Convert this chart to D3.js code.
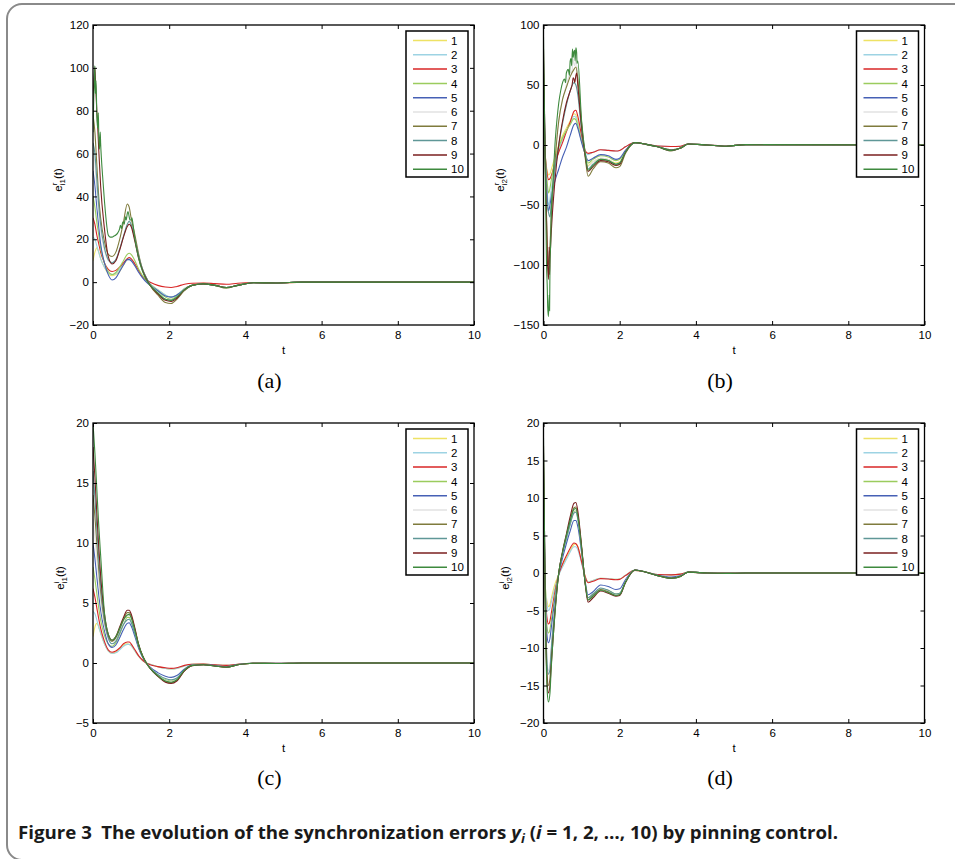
<!DOCTYPE html>
<html lang="en">
<head>
<meta charset="utf-8">
<title>Figure 3 - synchronization errors</title>
<script src="https://cdn.jsdelivr.net/npm/d3@7/dist/d3.min.js"></script>
<style>
  body { margin: 0; background: #fff; }
  svg text { font-family: "Liberation Sans", Arial, Helvetica, sans-serif; }
  .frame { fill: none; stroke: #000; stroke-width: 1.3; }
  .axis line { stroke: #000; stroke-width: 1; }
  .axis path { display: none; }
  .axis text { font-size: 11.5px; fill: #000; }
  .series { fill: none; stroke-width: 1.1; }
</style>
</head>
<body>
<div id="viz"></div>
<script>
// ---- data ----
var seriesNames = ["1", "2", "3", "4", "5", "6", "7", "8", "9", "10"];
var colors = ["#eee264", "#9dd3e3", "#d92626", "#9bcc5e", "#4660b5",
              "#e2e2e2", "#7f7b3c", "#5f9797", "#7a1f1f", "#3e8a3e"];

var xTicks = [0, 2, 4, 6, 8, 10];
var yTicksA = [-20, 0, 20, 40, 60, 80, 100, 120];
var yTicksB = [-150, -100, -50, 0, 50, 100];
var yTicksC = [-5, 0, 5, 10, 15, 20];
var yTicksD = [-20, -15, -10, -5, 0, 5, 10, 15, 20];

// time grids (panels a, c share one, b, d the other)
var tGrid1 = [0, .05, .1, .15, .2, .3, .4, .5, .6, .7, .8, .9, .95, 1.0, 1.1, 1.2, 1.3, 1.4, 1.5,
              1.7, 1.9, 2.05, 2.2, 2.4, 2.6, 2.9, 3.2, 3.5, 3.8, 4.2, 4.8, 5.5, 10];
var tGrid2 = [0, .05, .1, .13, .17, .2, .3, .4, .5, .6, .7, .8, .85, .9, 1.0, 1.1, 1.17, 1.3, 1.5,
              1.7, 1.9, 2.0, 2.15, 2.4, 2.7, 3.0, 3.35, 3.6, 3.8, 4.3, 4.8, 5.3, 10];

// (a) e^r_i1
var eR1 = [
  [10, 14, 16, 14, 11, 7, 4, 3, 3.5, 5, 8, 10.5, 11, 10.5, 8, 5, 2.5, 0.5, -1, -3.5, -6, -7, -6, -3, -1.5, -0.5, -1.5, -2.5, -1.5, -0.3, -0.5, 0, 0],
  [21, 20, 17, 14, 11, 7, 4.5, 3.5, 4, 6, 8.5, 10.5, 11, 10.5, 8, 5, 2.5, 0.5, -1, -3.5, -6, -7, -6, -3, -1.5, -0.7, -1.5, -2.5, -1.5, -0.3, -0.4, 0, 0],
  [30, 27, 22, 18, 14, 9, 6, 5, 5.5, 7, 9, 11, 11.5, 11, 8.5, 5.5, 2.5, 1, 0, -1.5, -2.3, -2.5, -2, -1, -0.5, -0.4, -0.7, -1, -0.5, -0.2, -0.5, 0, 0],
  [40, 35, 28, 22, 16, 9, 5, 3.5, 4.5, 7, 10, 13, 13.5, 13, 10, 6, 3, 1, -1, -4, -7, -8, -6.5, -3.5, -1.5, -0.8, -1.5, -2.5, -1.5, -0.3, -0.4, 0, 0],
  [52, 45, 35, 26, 18, 9, 3.5, 1, 2, 5, 8, 10.5, 10.5, 10, 7.5, 4.5, 2, 0, -1.5, -4, -6.5, -7, -6, -3.5, -1.5, -0.8, -1.5, -2.5, -1.5, -0.3, -0.4, 0, 0],
  [63, 55, 42, 32, 24, 15, 10, 9, 10.5, 15, 21, 26.5, 28, 27, 20, 12, 6, 2, -1, -5, -8, -8.5, -7, -3.5, -1.5, -0.8, -1.5, -2.5, -1.5, -0.3, -0.4, 0, 0],
  [78, 70, 55, 40, 30, 19, 13, 12, 14, 20, 28, 36.5, 35, 30, 22, 13, 6, 2, -1.5, -6, -9.5, -10, -8, -4, -1.5, -0.8, -1.5, -2.8, -1.5, -0.3, -0.4, 0, 0],
  [65, 60, 48, 36, 27, 16, 10.5, 9, 10.5, 15.5, 21.5, 27, 28.5, 27, 20, 12, 6, 2, -1, -5, -8, -8.5, -7, -3.5, -1.5, -0.8, -1.5, -2.5, -1.5, -0.3, -0.4, 0, 0],
  [85, 100, 80, 62, 45, 25, 12, 8.5, 10, 15, 21, 26, 27, 26, 19, 11, 5.5, 1.5, -1.5, -5.5, -8.5, -9, -7.5, -3.5, -1.5, -0.8, -1.5, -2.5, -1.5, -0.3, -0.4, 0, 0],
  [70, 101, 78, 70, 65, 38, 22, 21, 22, 25, 28, 32, 30.5, 29, 20, 11, 5, 1, -1.5, -5, -8, -8.5, -7, -3.5, -1.5, -0.8, -1.5, -2.5, -1.5, -0.3, -0.4, 0, 0]
];
// jagged extra samples (series index -> [t, value])
var jitR1 = {
  8: [[0.03, 96], [0.07, 92], [0.12, 74]],
  9: [[0.02, 86], [0.04, 97], [0.06, 88], [0.08, 94], [0.12, 72], [0.14, 79], [0.17, 62], [0.19, 70],
      [0.22, 58], [0.25, 50], [0.45, 21], [0.55, 21.5], [0.65, 23], [0.72, 26.5], [0.75, 25], [0.78, 28], [0.82, 27],
      [0.85, 30.5], [0.87, 29], [0.92, 33], [0.97, 29], [1.02, 30], [1.05, 27]]
};

// (b) e^r_i2
var eR2 = [
  [0, -12, -22, -25, -24, -21, -10, 0, 8, 14, 20, 26, 25, 20, 5, -9, -17, -14, -11, -12, -15, -14, -6, 2, 0.5, -1.5, -4, -2.5, 0.8, 0, -1, 0.3, 0],
  [10, -15, -40, -50, -45, -38, -20, -5, 5, 12, 18, 24, 23, 18, 4, -6, -8, -6, -4, -4.5, -5, -4.5, -1.5, 2, 0.5, -0.8, -1.2, -1, 0.8, 0, -0.8, 0.3, 0],
  [20, -10, -25, -29, -28, -26, -15, -6, 2, 11, 19, 28, 29, 24, 8, -5, -7, -6, -4, -4.5, -5, -4.5, -1.5, 2, 0.5, -0.8, -1.2, -1, 0.8, 0, -0.8, 0.3, 0],
  [30, -10, -32, -40, -36, -30, -14, -2, 6, 12, 17, 22, 21, 16, 3, -8, -15, -12, -9, -10, -13, -12, -5, 2, 0.5, -1.5, -4, -2.5, 0.8, 0, -1, 0.3, 0],
  [40, -10, -45, -55, -50, -44, -30, -20, -10, -2, 8, 17, 18, 14, 2, -8, -13, -11, -8, -9, -12, -11, -4.5, 2, 0.5, -1.5, -4, -2.5, 0.8, 0, -1, 0.3, 0],
  [50, -20, -80, -95, -80, -55, -10, 20, 38, 50, 60, 68, 70, 60, 20, -8, -18, -14, -11, -12, -16, -15, -6, 2, 0.5, -1.5, -4.5, -2.5, 0.8, 0, -1, 0.3, 0],
  [60, -20, -85, -100, -85, -65, -15, 20, 38, 48, 57, 63, 65, 55, 18, -12, -26, -20, -14, -15, -19, -18, -7, 2, 0.5, -1.5, -5, -2.5, 0.8, 0, -1, 0.3, 0],
  [70, -15, -50, -56, -60, -50, -20, 0, 18, 33, 45, 52, 50, 42, 12, -10, -20, -16, -12, -13, -16, -15, -6, 2, 0.5, -1.5, -4.5, -2.5, 0.8, 0, -1, 0.3, 0],
  [80, -20, -95, -112, -95, -75, -30, 0, 20, 35, 45, 55, 58, 50, 15, -10, -22, -18, -13, -14, -17, -16, -6, 2, 0.5, -1.5, -4.5, -2.5, 0.8, 0, -1, 0.3, 0],
  [90, -30, -120, -143, -100, -60, 0, 35, 52, 60, 70, 78, 81, 70, 20, -8, -21, -17, -12, -13, -16, -15, -6, 2, 0.5, -1.5, -4.5, -2.5, 0.8, 0, -1, 0.3, 0]
];
var jitR2 = {
  5: [[0.75, 62], [0.78, 72], [0.82, 66]],
  8: [[0.15, -85], [0.16, -108], [0.18, -88], [0.75, 50], [0.78, 56], [0.82, 52], [0.87, 60]],
  9: [[0.02, 40], [0.08, -100], [0.11, -135], [0.15, -125], [0.16, -138], [0.19, -80], [0.25, -30],
      [0.35, 20], [0.45, 45], [0.55, 55], [0.58, 52], [0.65, 63], [0.68, 58], [0.72, 72], [0.74, 66],
      [0.76, 80], [0.78, 73], [0.82, 79], [0.83, 70], [0.87, 77], [0.88, 68]]
};

// (c) e^i_i1
var eI1 = [
  [2.2, 3, 3.3, 3, 2.5, 1.6, 1.0, 0.8, 0.9, 1.2, 1.5, 1.6, 1.55, 1.45, 1.0, 0.55, 0.2, 0, -0.1, -0.3, -0.45, -0.5, -0.45, -0.25, -0.1, -0.08, -0.15, -0.2, -0.1, -0.02, -0.03, 0, 0],
  [4.3, 4.1, 3.6, 3.0, 2.5, 1.6, 1.0, 0.8, 0.85, 1.1, 1.4, 1.55, 1.55, 1.45, 1.0, 0.55, 0.2, 0, -0.1, -0.3, -0.45, -0.5, -0.45, -0.25, -0.1, -0.08, -0.15, -0.2, -0.1, -0.02, -0.03, 0, 0],
  [6.2, 5.5, 4.6, 3.7, 2.9, 1.8, 1.1, 0.9, 1.0, 1.25, 1.6, 1.75, 1.75, 1.6, 1.1, 0.6, 0.25, 0, -0.15, -0.3, -0.4, -0.45, -0.4, -0.2, -0.1, -0.08, -0.15, -0.2, -0.1, -0.02, -0.03, 0, 0],
  [8, 7, 5.8, 4.6, 3.6, 2.3, 1.6, 1.4, 1.7, 2.4, 3.2, 3.8, 3.8, 3.5, 2.5, 1.4, 0.6, 0, -0.4, -1.0, -1.4, -1.5, -1.3, -0.6, -0.2, -0.15, -0.25, -0.35, -0.15, -0.02, -0.04, 0, 0],
  [10, 8.7, 7.2, 5.7, 4.4, 2.7, 1.6, 1.3, 1.5, 2.1, 2.8, 3.3, 3.35, 3.1, 2.2, 1.2, 0.5, 0, -0.35, -0.8, -1.1, -1.2, -1.05, -0.5, -0.18, -0.12, -0.22, -0.3, -0.12, -0.02, -0.03, 0, 0],
  [12, 10.5, 8.6, 6.8, 5.2, 3.1, 2.0, 1.6, 1.9, 2.6, 3.4, 4.0, 4.0, 3.7, 2.6, 1.4, 0.6, 0, -0.4, -1.0, -1.45, -1.55, -1.35, -0.6, -0.2, -0.15, -0.25, -0.35, -0.15, -0.02, -0.04, 0, 0],
  [14, 12.2, 10, 7.8, 6, 3.5, 2.2, 1.8, 2.1, 2.8, 3.6, 4.2, 4.2, 3.9, 2.8, 1.5, 0.6, 0, -0.45, -1.1, -1.55, -1.65, -1.45, -0.65, -0.22, -0.15, -0.25, -0.35, -0.15, -0.02, -0.04, 0, 0],
  [16, 13.8, 11.2, 8.7, 6.5, 3.7, 2.1, 1.6, 1.8, 2.5, 3.2, 3.6, 3.65, 3.4, 2.4, 1.3, 0.5, 0, -0.4, -0.95, -1.3, -1.4, -1.25, -0.55, -0.2, -0.14, -0.24, -0.32, -0.14, -0.02, -0.04, 0, 0],
  [18, 15.5, 12.5, 9.7, 7.3, 4.1, 2.4, 1.9, 2.2, 3.0, 3.8, 4.4, 4.4, 4.1, 2.9, 1.5, 0.6, 0, -0.45, -1.1, -1.6, -1.7, -1.5, -0.65, -0.22, -0.15, -0.25, -0.35, -0.15, -0.02, -0.04, 0, 0],
  [20, 17.5, 14.5, 11.5, 9, 4.2, 2.4, 1.9, 2.2, 2.9, 3.6, 4.0, 4.05, 3.8, 2.7, 1.5, 0.6, 0, -0.45, -1.05, -1.5, -1.6, -1.4, -0.6, -0.2, -0.15, -0.25, -0.35, -0.15, -0.02, -0.04, 0, 0]
];

// (d) e^i_i2
var eI2 = [
  [2, -2, -4, -4.5, -4.2, -3.5, -1.5, -0.2, 1, 2, 3, 3.8, 3.9, 3.5, 1.5, -0.5, -1.2, -1.0, -0.7, -0.75, -0.85, -0.8, -0.3, 0.35, 0.1, -0.2, -0.25, -0.15, 0.1, 0, 0, 0, 0],
  [4, -2, -4.5, -5, -4.7, -4, -2, -0.3, 0.8, 1.8, 2.8, 3.5, 3.5, 3.1, 1.3, -0.6, -1.2, -1.0, -0.7, -0.75, -0.85, -0.8, -0.3, 0.35, 0.1, -0.2, -0.25, -0.15, 0.1, 0, 0, 0, 0],
  [6, -3, -6.3, -6.8, -6.4, -5.5, -2.5, -0.2, 1.2, 2.3, 3.3, 4.0, 3.9, 3.5, 1.5, -0.6, -1.3, -1.1, -0.75, -0.8, -0.9, -0.85, -0.35, 0.35, 0.1, -0.2, -0.25, -0.15, 0.1, 0, 0, 0, 0],
  [8, -3, -7.5, -8, -7.5, -6.5, -3, 0, 2.5, 4.5, 6.5, 8.2, 8.3, 7.3, 3.2, -1.5, -3.3, -2.8, -2.1, -2.3, -2.8, -2.7, -1.2, 0.4, 0.1, -0.35, -0.65, -0.4, 0.12, 0, -0.05, 0, 0],
  [10, -3, -8.7, -9.3, -8.7, -7.5, -3.5, -0.2, 2, 3.9, 5.6, 7.0, 7.0, 6.2, 2.7, -1.3, -2.9, -2.5, -1.6, -1.8, -2.2, -2.1, -0.9, 0.4, 0.1, -0.3, -0.55, -0.35, 0.12, 0, -0.05, 0, 0],
  [12, -4, -12, -13, -12, -10, -4.5, 0, 2.6, 4.7, 6.7, 8.3, 8.4, 7.4, 3.2, -1.5, -3.4, -2.9, -2.1, -2.4, -2.9, -2.8, -1.2, 0.4, 0.1, -0.35, -0.65, -0.4, 0.12, 0, -0.05, 0, 0],
  [14, -5, -14, -15, -14, -11.5, -5, 0, 2.7, 4.9, 7, 8.7, 8.8, 7.8, 3.4, -1.6, -3.6, -3.0, -2.2, -2.5, -3.0, -2.9, -1.25, 0.4, 0.1, -0.35, -0.65, -0.4, 0.12, 0, -0.05, 0, 0],
  [16, -4, -12.5, -13.5, -12.8, -10.5, -4.5, 0, 2.5, 4.6, 6.5, 8.0, 8.1, 7.2, 3.1, -1.5, -3.3, -2.8, -2.0, -2.3, -2.8, -2.7, -1.2, 0.4, 0.1, -0.35, -0.65, -0.4, 0.12, 0, -0.05, 0, 0],
  [17, -5, -15, -16, -15, -12.5, -5.3, 0, 2.9, 5.2, 7.5, 9.3, 9.4, 8.3, 3.6, -1.7, -3.9, -3.3, -2.4, -2.7, -3.1, -3.0, -1.3, 0.4, 0.1, -0.35, -0.7, -0.45, 0.12, 0, -0.05, 0, 0],
  [18, -6, -16, -17.2, -16, -13, -5.5, 0, 2.8, 5, 7, 8.5, 8.6, 7.6, 3.3, -1.6, -3.6, -3.1, -2.3, -2.6, -3.0, -2.9, -1.25, 0.4, 0.1, -0.35, -0.7, -0.45, 0.12, 0, -0.05, 0, 0]
];

// ---- drawing ----
var w = 955, h = 859;
var svg = d3.select("#viz").append("svg")
  .attr("width", w)
  .attr("height", h);

// rounded figure border
svg.append("rect")
  .attr("x", 7).attr("y", 4)
  .attr("width", 970).attr("height", 856)
  .attr("rx", 15).attr("ry", 15)
  .attr("fill", "none")
  .attr("stroke", "#8a8a8a")
  .attr("stroke-width", 2);

var panels = [
  { id: "a", left: 93, top: 25, yDom: [-20, 120], ticks: yTicksA, t: tGrid1, vals: eR1, jit: jitR1, sup: "r", sub: "i1", labX: 62, capY: 388 },
  { id: "b", left: 543.5, top: 25, yDom: [-150, 100], ticks: yTicksB, t: tGrid2, vals: eR2, jit: jitR2, sup: "r", sub: "i2", labX: 504, capY: 388 },
  { id: "c", left: 93, top: 423, yDom: [-5, 20], ticks: yTicksC, t: tGrid1, vals: eI1, jit: {}, sup: "i", sub: "i1", labX: 64, capY: 785 },
  { id: "d", left: 543.5, top: 423, yDom: [-20, 20], ticks: yTicksD, t: tGrid2, vals: eI2, jit: {}, sup: "i", sub: "i2", labX: 509, capY: 785 }
];
var pw = 381, ph = 300;

panels.forEach(function(p) {
  var g = svg.append("g").attr("transform", "translate(" + p.left + "," + p.top + ")");

  var x = d3.scaleLinear().domain([0, 10]).range([0, pw]);
  var y = d3.scaleLinear().domain(p.yDom).range([ph, 0]);

  g.append("clipPath").attr("id", "clip-" + p.id)
    .append("rect").attr("width", pw).attr("height", ph);

  var line = d3.line()
    .x(function(d) { return x(d[0]); })
    .y(function(d) { return y(d[1]); })
    .curve(d3.curveMonotoneX);

  var series = p.vals.map(function(v, i) {
    var pts = p.t.map(function(t, k) { return [t, v[k]]; });
    if (p.jit[i]) {
      pts = pts.concat(p.jit[i]).sort(function(a, b) { return a[0] - b[0]; });
    }
    return pts;
  });

  g.append("g").attr("clip-path", "url(#clip-" + p.id + ")")
    .selectAll("path")
    .data(series)
    .enter()
    .append("path")
    .attr("class", "series")
    .attr("d", line)
    .attr("stroke", function(d, i) { return colors[i]; });

  // MATLAB style axes, ticks pointing inward on all four sides
  g.append("g").attr("class", "axis")
    .call(d3.axisLeft(y).tickValues(p.ticks).tickSize(-4).tickPadding(4));
  g.append("g").attr("class", "axis")
    .attr("transform", "translate(" + pw + ",0)")
    .call(d3.axisRight(y).tickValues(p.ticks).tickSize(-4).tickFormat(""));
  g.append("g").attr("class", "axis")
    .attr("transform", "translate(0," + ph + ")")
    .call(d3.axisBottom(x).tickValues(xTicks).tickSize(-4).tickPadding(6));
  g.append("g").attr("class", "axis")
    .call(d3.axisTop(x).tickValues(xTicks).tickSize(-4).tickFormat(""));

  g.append("rect").attr("class", "frame")
    .attr("width", pw).attr("height", ph);

  // x label
  g.append("text")
    .attr("x", pw / 2).attr("y", ph + 29)
    .attr("text-anchor", "middle")
    .style("font-size", "11.5px")
    .text("t");

  // y label e^{sup}_{sub}(t)
  var yl = svg.append("text")
    .attr("transform", "translate(" + p.labX + "," + (p.top + ph / 2 + 5) + ") rotate(-90)")
    .attr("text-anchor", "middle")
    .style("font-size", "11.5px");
  yl.append("tspan").text("e");
  var s1 = yl.append("tspan").attr("dy", -5).style("font-size", "8px").text(p.sup);
  var sw = s1.node().getComputedTextLength();
  yl.append("tspan").attr("dx", -sw).attr("dy", 8).style("font-size", "8px").text(p.sub);
  yl.append("tspan").attr("dy", -3).text("(t)");

  // legend box
  var lg = g.append("g").attr("transform", "translate(" + (pw - 68) + ",6)");
  lg.append("rect")
    .attr("width", 62).attr("height", 146)
    .attr("fill", "#fff")
    .attr("stroke", "#000")
    .attr("stroke-width", 1.5);
  var items = lg.selectAll("g.item")
    .data(seriesNames)
    .enter()
    .append("g")
    .attr("class", "item")
    .attr("transform", function(d, i) { return "translate(0," + (9.5 + i * 14.3) + ")"; });
  items.append("line")
    .attr("x1", 7).attr("x2", 41)
    .attr("stroke", function(d, i) { return colors[i]; })
    .attr("stroke-width", 1.5);
  items.append("text")
    .attr("x", 45).attr("dy", "0.36em")
    .style("font-size", "11.5px")
    .text(function(d) { return d; });

  // panel caption (a), (b) ...
  svg.append("text")
    .attr("x", p.left + pw / 2 - 14).attr("y", p.capY)
    .attr("text-anchor", "middle")
    .style("font-family", "'Liberation Serif', 'DejaVu Serif', serif")
    .style("font-size", "22px")
    .text("(" + p.id + ")");
});

// figure caption
var cap = svg.append("text")
  .attr("x", 18).attr("y", 839)
  .attr("textLength", 820)
  .attr("lengthAdjust", "spacingAndGlyphs")
  .style("font-family", "'Open Sans', 'Liberation Sans', sans-serif")
  .style("font-weight", "bold")
  .style("font-size", "17px")
  .attr("fill", "#1a1a1a");
cap.append("tspan").text("Figure 3\u2002The evolution of the synchronization errors ");
cap.append("tspan").style("font-style", "italic").text("y");
cap.append("tspan").style("font-style", "italic").style("font-size", "12px").attr("dy", 4).text("i");
cap.append("tspan").attr("dy", -4).text(" (");
cap.append("tspan").style("font-style", "italic").text("i");
cap.append("tspan").text(" = 1, 2, \u2026, 10) by pinning control.");
</script>
</body>
</html>
